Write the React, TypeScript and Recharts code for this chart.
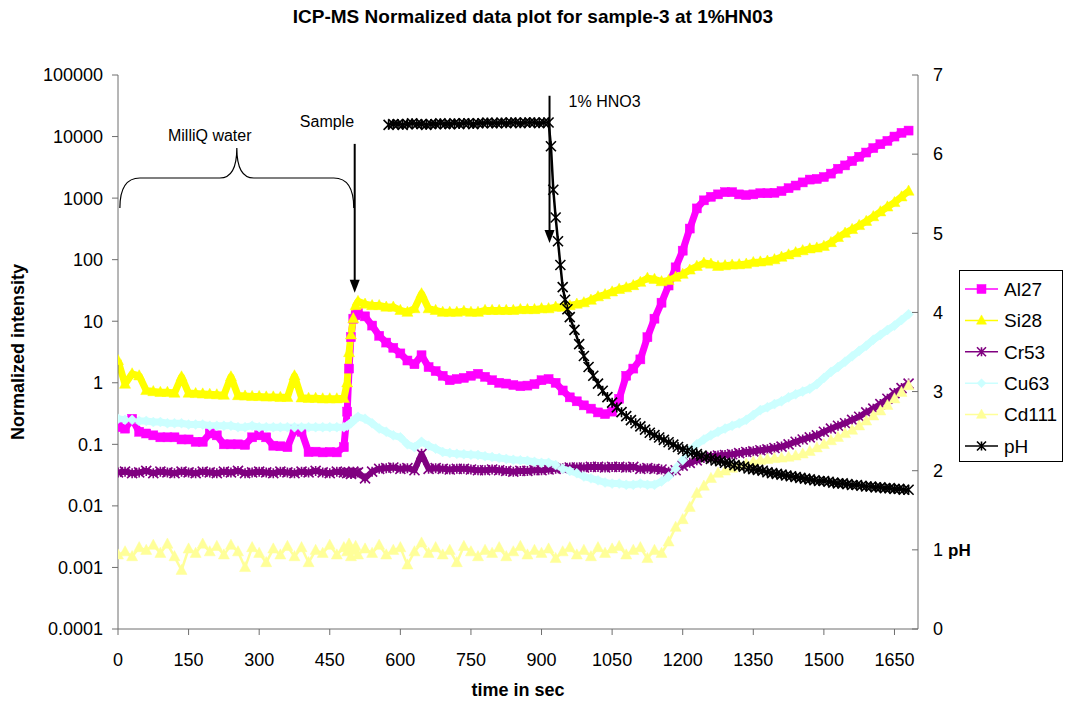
import React from 'react';
import {
  LineChart,
  Line,
  XAxis,
  YAxis,
  Legend,
  ReferenceLine,
  ReferenceArea,
  ReferenceDot,
} from 'recharts';

const FONT = '"Liberation Sans", Arial, Helvetica, sans-serif';
const AXIS_COLOR = '#6e6e6e';

// Sampling times (s) of the isotope channels
const TIME = [
  0, 15, 30, 45, 60, 75, 90, 105, 120, 135,
  150, 165, 180, 195, 210, 225, 240, 255, 270, 285,
  300, 315, 330, 345, 360, 375, 390, 405, 420, 435,
  450, 465, 480, 487, 491, 495, 500, 505, 510, 525,
  540, 555, 570, 585, 600, 615, 630, 645, 660, 675,
  690, 705, 720, 735, 750, 765, 780, 795, 810, 825,
  840, 855, 870, 885, 900, 915, 930, 945, 960, 975,
  990, 1005, 1020, 1035, 1050, 1065, 1080, 1095, 1110, 1125,
  1140, 1155, 1170, 1185, 1200, 1215, 1230, 1245, 1260, 1275,
  1290, 1305, 1320, 1335, 1350, 1365, 1380, 1395, 1410, 1425,
  1440, 1455, 1470, 1485, 1500, 1515, 1530, 1545, 1560, 1575,
  1590, 1605, 1620, 1635, 1650, 1665, 1680,
];

// Normalized intensities
const AL27 = [
  0.19, 0.18, 0.26, 0.16, 0.15, 0.14, 0.13, 0.13, 0.13, 0.12,
  0.12, 0.11, 0.11, 0.15, 0.14, 0.1, 0.1, 0.1, 0.098, 0.13,
  0.14, 0.13, 0.095, 0.093, 0.09, 0.17, 0.16, 0.075, 0.076, 0.074,
  0.075, 0.074, 0.09, 0.34, 1.7, 5.5, 11, 12.5, 13.5, 12,
  8.5, 5.8, 4.5, 3.7, 3.0, 2.3, 2.0, 2.8, 1.8, 1.55,
  1.3, 1.1, 1.15, 1.2, 1.3, 1.4, 1.25, 1.1, 1.0, 0.97,
  0.92, 0.88, 0.9, 0.95, 1.1, 1.15, 1.0, 0.75, 0.58, 0.5,
  0.43, 0.38, 0.33, 0.31, 0.34, 0.55, 1.3, 1.7, 2.4, 5.5,
  11, 20, 38, 75, 140, 320, 680, 920, 1050, 1150,
  1250, 1250, 1150, 1120, 1150, 1200, 1200, 1220, 1300, 1450,
  1600, 1800, 2000, 2050, 2200, 2500, 3000, 3400, 4000, 4700,
  5500, 6500, 7500, 8500, 10000, 11500, 12500,
];

const SI28 = [
  2.3, 0.95, 1.4, 1.3, 0.75, 0.72, 0.7, 0.7, 0.68, 1.25,
  0.68, 0.67, 0.66, 0.65, 0.64, 0.63, 1.25, 0.62, 0.61, 0.6,
  0.6, 0.59, 0.59, 0.58, 0.58, 1.3, 0.57, 0.56, 0.56, 0.55,
  0.55, 0.55, 0.56, 1.0, 3.1, 6.0, 11, 18, 21, 19,
  18, 18, 17, 17, 15, 14, 16, 28, 16, 15,
  14, 14, 14, 14.5, 14, 14, 15, 15, 15, 15,
  15, 15.5, 15.5, 15.5, 16, 16, 17, 17, 18, 19,
  20, 22, 25, 27, 30, 33, 35, 38, 43, 50,
  48, 44, 46, 52, 58, 68, 78, 88, 85, 78,
  80, 82, 83, 85, 90, 92, 95, 100, 110, 120,
  130, 140, 150, 155, 165, 190, 230, 270, 310, 360,
  420, 500, 600, 720, 850, 1050, 1300,
];

const CR53 = [
  0.035, 0.036, 0.034, 0.035, 0.037, 0.034, 0.036, 0.035, 0.034, 0.036,
  0.035, 0.034, 0.036, 0.035, 0.034, 0.036, 0.035, 0.037, 0.034, 0.035,
  0.036, 0.035, 0.034, 0.036, 0.035, 0.034, 0.036, 0.035, 0.037, 0.035,
  0.034, 0.036, 0.035, 0.034, 0.035, 0.033, 0.036, 0.034, 0.035, 0.028,
  0.036, 0.04, 0.041, 0.042, 0.04, 0.041, 0.038, 0.07, 0.04, 0.041,
  0.04, 0.039, 0.04, 0.04, 0.039, 0.038, 0.038, 0.039, 0.038, 0.037,
  0.036, 0.037, 0.037, 0.038, 0.038, 0.039, 0.04, 0.041, 0.042, 0.042,
  0.042, 0.043, 0.043, 0.042, 0.043, 0.043, 0.042, 0.043, 0.04, 0.041,
  0.04, 0.039, 0.036, 0.038, 0.045, 0.05, 0.055, 0.06, 0.064, 0.066,
  0.067, 0.069, 0.072, 0.075, 0.077, 0.08, 0.083, 0.087, 0.092, 0.1,
  0.11, 0.12, 0.13, 0.14, 0.16, 0.18, 0.2, 0.22, 0.25, 0.28,
  0.33, 0.38, 0.45, 0.55, 0.68, 0.82, 0.97,
];

const CU63 = [
  0.26, 0.25, 0.25, 0.24, 0.24, 0.23, 0.23, 0.22, 0.22, 0.22,
  0.21, 0.21, 0.21, 0.2, 0.2, 0.2, 0.2, 0.19, 0.19, 0.2,
  0.19, 0.19, 0.19, 0.19, 0.19, 0.19, 0.19, 0.19, 0.19, 0.19,
  0.19, 0.19, 0.19, 0.2, 0.21, 0.22, 0.24, 0.26, 0.28, 0.26,
  0.22, 0.18, 0.16, 0.14, 0.13, 0.1, 0.09, 0.11, 0.095, 0.085,
  0.075, 0.072, 0.07, 0.069, 0.068, 0.067, 0.064, 0.062, 0.06, 0.058,
  0.056, 0.055, 0.054, 0.052, 0.05, 0.05, 0.046, 0.04, 0.037, 0.034,
  0.03, 0.028, 0.026, 0.024, 0.023, 0.023, 0.022, 0.022, 0.023, 0.022,
  0.022, 0.025, 0.03, 0.04, 0.055, 0.08, 0.1, 0.12, 0.14, 0.16,
  0.18, 0.2, 0.22, 0.25, 0.3, 0.36, 0.4, 0.45, 0.5, 0.58,
  0.65, 0.72, 0.8, 0.95, 1.2, 1.5, 1.8, 2.2, 2.7, 3.3,
  4.0, 5.0, 6.0, 7.2, 8.5, 10.5, 13,
];

const CD111 = [
  0.0016, 0.0018, 0.0015, 0.0021, 0.0019, 0.0023, 0.0017, 0.0024, 0.0015, 0.0009,
  0.002, 0.0017, 0.0024, 0.0018, 0.0022, 0.0016, 0.0023, 0.0018, 0.001, 0.0021,
  0.0017, 0.0012, 0.002, 0.0016, 0.0022, 0.0015, 0.0021, 0.0012, 0.0019, 0.0017,
  0.0023, 0.0016, 0.0021, 0.0018, 0.0024, 0.0015, 0.0019, 0.0022, 0.0016, 0.002,
  0.0017, 0.0023, 0.0016, 0.0019, 0.0021, 0.0011, 0.0018, 0.0025, 0.0017, 0.0021,
  0.0016, 0.0019, 0.0012, 0.0022, 0.0018, 0.0015, 0.0019, 0.0017, 0.0021, 0.0015,
  0.0018, 0.0022, 0.0016, 0.0019, 0.0017, 0.002, 0.0014, 0.0018, 0.0021, 0.0016,
  0.0019, 0.0015, 0.0021, 0.0017, 0.002, 0.0022, 0.0016, 0.0019, 0.0021, 0.0014,
  0.0019, 0.0017, 0.0026, 0.0045, 0.006, 0.0095, 0.016, 0.021, 0.028, 0.034,
  0.037, 0.041, 0.045, 0.048, 0.052, 0.055, 0.057, 0.059, 0.06, 0.062,
  0.065, 0.07, 0.077, 0.088, 0.1, 0.115, 0.13, 0.15, 0.17, 0.2,
  0.24, 0.29, 0.35, 0.43, 0.55, 0.7, 0.9,
];

// pH probe readings (s, pH)
const PH_TIME = [
  575, 585, 595, 605, 615, 625, 635, 645, 655, 665,
  675, 685, 695, 705, 715, 725, 735, 745, 755, 765,
  775, 785, 795, 805, 815, 825, 835, 845, 855, 865,
  875, 885, 895, 905, 915,
  920, 925, 930, 935, 940, 945, 950, 955, 960,
  970, 980, 990, 1000, 1010, 1020, 1030, 1040, 1050, 1060,
  1070, 1080, 1090, 1100, 1110, 1120, 1130, 1140, 1150, 1160,
  1170, 1180, 1190, 1200, 1210, 1220, 1230, 1240, 1250, 1260,
  1270, 1280, 1290, 1300, 1310, 1320, 1330, 1340, 1350, 1360,
  1370, 1380, 1390, 1400, 1410, 1420, 1430, 1440, 1450, 1460,
  1470, 1480, 1490, 1500, 1510, 1520, 1530, 1540, 1550, 1560,
  1570, 1580, 1590, 1600, 1610, 1620, 1630, 1640, 1650, 1660,
  1670, 1680,
];

const PH = [
  6.37, 6.38, 6.38, 6.37, 6.38, 6.39, 6.38, 6.38, 6.37, 6.38,
  6.38, 6.39, 6.38, 6.38, 6.39, 6.38, 6.39, 6.39, 6.38, 6.39,
  6.39, 6.4, 6.39, 6.39, 6.4, 6.39, 6.4, 6.4, 6.39, 6.4,
  6.4, 6.4, 6.39, 6.4, 6.4,
  6.1, 5.55, 5.2, 4.9, 4.6, 4.32, 4.16, 4.04, 3.94,
  3.78, 3.6, 3.45, 3.31, 3.2, 3.1, 3.01, 2.93, 2.86, 2.8,
  2.74, 2.69, 2.64, 2.6, 2.56, 2.52, 2.48, 2.45, 2.42, 2.39,
  2.36, 2.33, 2.3, 2.27, 2.25, 2.23, 2.21, 2.19, 2.17, 2.15,
  2.13, 2.12, 2.1, 2.09, 2.07, 2.06, 2.05, 2.03, 2.02, 2.01,
  2.0, 1.98, 1.97, 1.96, 1.95, 1.94, 1.93, 1.92, 1.91, 1.9,
  1.89, 1.88, 1.87, 1.87, 1.86, 1.85, 1.84, 1.84, 1.83, 1.82,
  1.82, 1.81, 1.8, 1.8, 1.79, 1.79, 1.78, 1.78, 1.77, 1.77,
  1.76, 1.76,
];

const TIME_TICKS = [0, 150, 300, 450, 600, 750, 900, 1050, 1200, 1350, 1500, 1650];
const INTENSITY_TICKS = [0.0001, 0.001, 0.01, 0.1, 1, 10, 100, 1000, 10000, 100000];
const PH_TICKS = [0, 1, 2, 3, 4, 5, 6, 7];

type MarkerKind = 'square' | 'triangle' | 'star' | 'diamond';

interface SeriesDef {
  name: string;
  times: number[];
  values: number[];
  color: string;
  marker: MarkerKind;
  size: number;
  band: number; // stroke width of the joining line
  axis: 'int' | 'ph';
}

const SERIES: SeriesDef[] = [
  { name: 'Al27', times: TIME, values: AL27, color: '#FF00FF', marker: 'square', size: 9, band: 7, axis: 'int' },
  { name: 'Si28', times: TIME, values: SI28, color: '#FFFF00', marker: 'triangle', size: 11, band: 7, axis: 'int' },
  { name: 'Cr53', times: TIME, values: CR53, color: '#800080', marker: 'star', size: 10, band: 6, axis: 'int' },
  { name: 'Cu63', times: TIME, values: CU63, color: '#CCFFFF', marker: 'diamond', size: 10, band: 7, axis: 'int' },
  { name: 'Cd111', times: TIME, values: CD111, color: '#FFFF99', marker: 'triangle', size: 11, band: 2.5, axis: 'int' },
  { name: 'pH', times: PH_TIME, values: PH, color: '#000000', marker: 'star', size: 10, band: 2.5, axis: 'ph' },
];

const toRows = (times: number[], values: number[]) =>
  times.map((t, i) => ({ t, v: values[i] }));

function markerShape(kind: MarkerKind, cx: number, cy: number, color: string, size: number, key?: string) {
  const h = size / 2;
  switch (kind) {
    case 'square':
      return <rect key={key} x={cx - h} y={cy - h} width={size} height={size} fill={color} stroke={color} strokeWidth={0.5} />;
    case 'triangle':
      return (
        <polygon
          key={key}
          points={`${cx},${cy - h * 1.1} ${cx - h},${cy + h * 0.75} ${cx + h},${cy + h * 0.75}`}
          fill={color}
          stroke={color}
          strokeWidth={0.5}
        />
      );
    case 'diamond':
      return (
        <polygon
          key={key}
          points={`${cx},${cy - h} ${cx + h},${cy} ${cx},${cy + h} ${cx - h},${cy}`}
          fill={color}
          stroke={color}
          strokeWidth={0.5}
        />
      );
    case 'star':
    default:
      return (
        <path
          key={key}
          d={`M${cx - h},${cy - h}L${cx + h},${cy + h}M${cx - h},${cy + h}L${cx + h},${cy - h}M${cx},${cy - h}L${cx},${cy + h}`}
          stroke={color}
          strokeWidth={1.6}
          fill="none"
        />
      );
  }
}

const makeDot = (s: SeriesDef) => (p: any) => {
  if (p == null || p.cx == null || p.cy == null) return <g key={`e-${s.name}-${p?.index}`} />;
  return markerShape(s.marker, p.cx, p.cy, s.color, s.size, `m-${s.name}-${p.index}`);
};

// Right-hand pH ticks point into the plot
const PhTick = (props: any) => {
  const { x, y, payload } = props;
  return (
    <g>
      <line x1={x - 21} y1={y} x2={x - 15} y2={y} stroke={AXIS_COLOR} strokeWidth={1} />
      <text x={x} y={y} dy="0.35em" textAnchor="start" fontSize={18} fill="#000" fontFamily={FONT}>
        {payload.value}
      </text>
    </g>
  );
};

const Arrow = (p: any) => {
  const { x1, y1, x2, y2 } = p;
  const head = 13;
  return (
    <g>
      <line x1={x1} y1={y1} x2={x2} y2={y2 - head + 1} stroke="#000" strokeWidth={2} />
      <polygon points={`${x2},${y2} ${x2 - 5},${y2 - head} ${x2 + 5},${y2 - head}`} fill="#000" />
    </g>
  );
};

const Brace = (p: any) => {
  const { x, y, width: w, height: h } = p;
  const mid = y + h / 2;
  const cx = x + w / 2;
  const r = 20;
  const d =
    `M${x},${y + h} Q${x},${mid} ${x + r},${mid} L${cx - 17},${mid} Q${cx},${mid} ${cx},${y} ` +
    `Q${cx},${mid} ${cx + 17},${mid} L${x + w - r},${mid} Q${x + w},${mid} ${x + w},${y + h}`;
  return <path d={d} fill="none" stroke="#000" strokeWidth={1.2} />;
};

const LegendBox = () => {
  const w = 104;
  const h = 192;
  return (
    <div style={{ width: w, height: h, boxSizing: 'border-box', border: '1px solid #000', background: '#fff' }}>
      <svg width={w - 2} height={h - 2} style={{ display: 'block' }}>
        {SERIES.map((s, i) => {
          const cy = 18 + i * 31.4;
          return (
            <g key={s.name}>
              <line x1={5} y1={cy} x2={38} y2={cy} stroke={s.color} strokeWidth={1.5} />
              {markerShape(s.marker, 21.5, cy, s.color, s.marker === 'triangle' ? 10 : 9)}
              <text x={44} y={cy} dy="0.36em" fontSize={19} fontFamily={FONT} fill="#000">
                {s.name}
              </text>
            </g>
          );
        })}
      </svg>
    </div>
  );
};

const annotationLabel = (value: string) => ({
  value,
  position: 'center' as const,
  fill: '#000',
  fontSize: 16,
  fontFamily: FONT,
});

export default function App() {
  return (
    <div style={{ position: 'absolute', left: 0, top: 0, width: 1066, height: 702, background: '#fff', fontFamily: FONT }}>
      <div
        style={{
          position: 'absolute',
          left: 0,
          top: 7,
          width: 1066,
          textAlign: 'center',
          fontSize: 19,
          lineHeight: '20px',
          fontWeight: 'bold',
          color: '#000',
          zIndex: 2,
        }}
      >
        ICP-MS Normalized data plot for sample-3 at 1%HN03
      </div>
      <LineChart width={1066} height={702} margin={{ top: 75, right: 88, bottom: 5, left: 0 }}>
        <XAxis
          dataKey="t"
          type="number"
          domain={[0, 1700]}
          ticks={TIME_TICKS}
          interval={0}
          allowDataOverflow
          height={68}
          tickSize={6}
          tickMargin={18}
          stroke={AXIS_COLOR}
          tick={{ fill: '#000', fontSize: 18, fontFamily: FONT }}
          label={{
            value: 'time in sec',
            position: 'insideBottom',
            offset: 1,
            fill: '#000',
            fontSize: 18,
            fontWeight: 'bold',
            fontFamily: FONT,
          }}
        />
        <YAxis
          yAxisId="int"
          scale="log"
          domain={[0.0001, 100000]}
          ticks={INTENSITY_TICKS}
          interval={0}
          allowDataOverflow
          width={118}
          tickSize={6}
          tickMargin={9}
          stroke={AXIS_COLOR}
          tick={{ fill: '#000', fontSize: 18, fontFamily: FONT }}
          label={{
            content: (props: any) => {
              const vb = props.viewBox || { x: 0, y: 75, width: 118, height: 554 };
              const cx = vb.x + 18;
              const cy = vb.y + vb.height / 2;
              return (
                <text
                  x={cx}
                  y={cy}
                  transform={`rotate(-90 ${cx} ${cy})`}
                  textAnchor="middle"
                  dominantBaseline="central"
                  fontSize={18}
                  fontWeight="bold"
                  fontFamily={FONT}
                  fill="#000"
                >
                  Normalized intensity
                </text>
              );
            },
          }}
        />
        <YAxis
          yAxisId="ph"
          orientation="right"
          domain={[0, 7]}
          ticks={PH_TICKS}
          interval={0}
          width={60}
          tickLine={false}
          tickSize={0}
          tickMargin={15}
          stroke={AXIS_COLOR}
          tick={<PhTick />}
          label={{
            content: (props: any) => {
              const vb = props.viewBox || { x: 918, y: 75, width: 60, height: 554 };
              const x = vb.x + 30;
              const y = vb.y + vb.height * (6 / 7);
              return (
                <text x={x} y={y} dy="0.35em" fontSize={17} fontWeight="bold" fontFamily={FONT} fill="#000">
                  pH
                </text>
              );
            },
          }}
        />

        <ReferenceArea yAxisId="int" x1={4} x2={501} y1={690} y2={6520} ifOverflow="visible" shape={Brace} />
        <ReferenceLine
          yAxisId="int"
          segment={[{ x: 503, y: 7600 }, { x: 503, y: 29 }]}
          ifOverflow="visible"
          shape={Arrow}
        />
        <ReferenceLine
          yAxisId="int"
          segment={[{ x: 917, y: 46000 }, { x: 917, y: 186 }]}
          ifOverflow="visible"
          shape={Arrow}
        />
        <ReferenceDot yAxisId="int" x={195} y={10600} r={1} fill="none" stroke="none" ifOverflow="visible" label={annotationLabel('MilliQ water')} />
        <ReferenceDot yAxisId="int" x={444} y={17900} r={1} fill="none" stroke="none" ifOverflow="visible" label={annotationLabel('Sample')} />
        <ReferenceDot yAxisId="int" x={1034} y={37800} r={1} fill="none" stroke="none" ifOverflow="visible" label={annotationLabel('1% HNO3')} />

        {SERIES.map((s) => (
          <Line
            key={s.name}
            name={s.name}
            data={toRows(s.times, s.values)}
            dataKey="v"
            yAxisId={s.axis}
            type="linear"
            stroke={s.color}
            strokeWidth={s.band}
            strokeLinejoin="round"
            dot={makeDot(s)}
            activeDot={false}
            isAnimationActive={false}
          />
        ))}

        <Legend
          layout="vertical"
          align="center"
          verticalAlign="middle"
          width={104}
          height={192}
          wrapperStyle={{ left: 959, top: 270, width: 104, height: 192 }}
          content={() => <LegendBox />}
        />
      </LineChart>
    </div>
  );
}
